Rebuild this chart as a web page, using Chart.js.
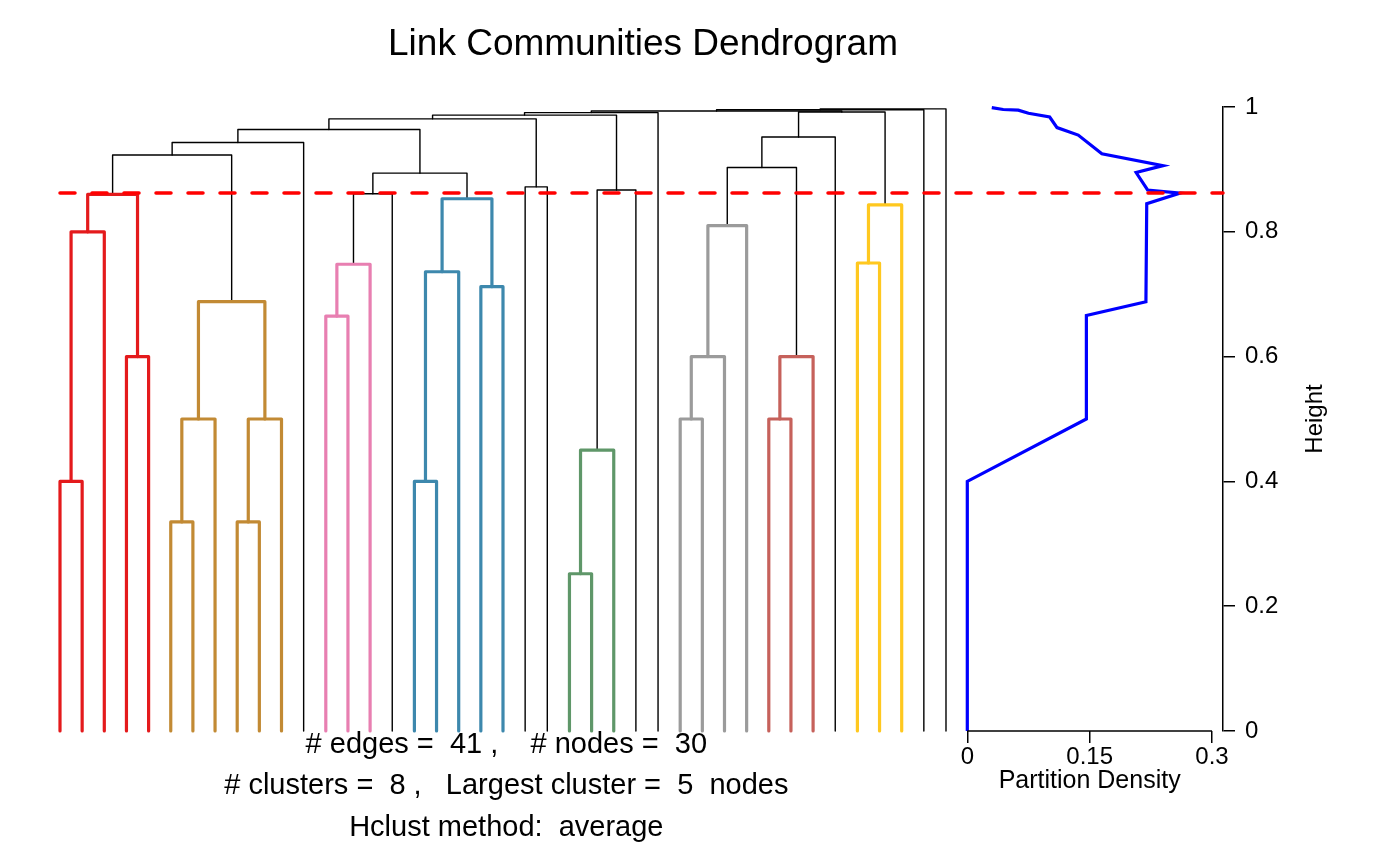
<!DOCTYPE html>
<html><head><meta charset="utf-8">
<script src="https://cdn.jsdelivr.net/npm/chart.js@4.4.0/dist/chart.umd.min.js"></script>
<style>html,body{margin:0;padding:0;background:#fff}#wrap{width:1400px;height:866px;position:relative}</style>
</head><body><div id="wrap"><canvas id="c" width="1400" height="866"></canvas></div>
<script>
// ---------------- DATA ----------------
// cluster id of each leaf (link) in dendrogram order; 0 = not in a cluster
const leafCluster = [1,1,1,1,1, 2,2,2,2,2,2, 0, 3,3,3, 0, 4,4,4,4,4, 0,0, 5,5,5, 0,0, 6,6,6,6, 7,7,7, 0, 8,8,8, 0,0];
// hclust-style merges: negative = leaf position (1-based), positive = earlier merge step (1-based)
const mergeLeft  = [-24,-6,-9,-1,-17, 1, 2, 3,-29,-33,-4, 9,10,-13, 7,-20, 5,14,-37, 4,12,19,17,20,18, 6,-22,25,21,24,30,29,31,33,34,35,32,36,38,39];
const mergeRight = [-25,-7,-10,-2,-18,-26,-8,-11,-30,-34,-5,-31,-35,-14, 8,-21,-19,-15,-38,-3,-32,-39,16,11,-16,-27,-23,23,13,15,-12,-36,28,27,26,-28,22,37,-40,-41];
const mergeHeight = [0.252,0.335,0.335,0.40,0.40,0.45,0.50,0.50,0.50,0.50,0.60,0.60,0.60,0.665,0.688,0.712,0.736,0.748,0.75,0.80,0.81,0.843,0.853,0.860,0.861,0.867,0.872,0.894,0.903,0.923,0.943,0.952,0.964,0.981,0.987,0.991,0.992,0.9936,0.9955,0.997];
const cutHeight = 0.862;
// partition density curve
const densityValues  = [0.030,0.044,0.0625,0.075,0.101,0.110,0.136,0.165,0.240,0.207,0.219,0.221,0.261,0.220,0.219,0.146,0.146,0,0];
const densityHeights = [0.999,0.996,0.995,0.990,0.984,0.967,0.955,0.925,0.906,0.895,0.871,0.867,0.862,0.845,0.688,0.666,0.500,0.40,0];
const densityTicks = [0, 0.15, 0.3];
const heightTicks = [0, 0.2, 0.4, 0.6, 0.8, 1];
const titleText = 'Link Communities Dendrogram';
const infoLines = ['# edges =  41 ,    # nodes =  30', '# clusters =  8 ,   Largest cluster =  5  nodes', 'Hclust method:  average'];

// ---------------- STYLE ----------------
const FONT = '"Liberation Sans", Arial, Helvetica, sans-serif';
const palette = ['#000000','#E41A1C','#C28A34','#E87FB1','#3D88AD','#5F9769','#9B9B9B','#C6615B','#FFC81F'];

// ---------------- BUILD ----------------
const nodeX = [], nodeH = [], nodeCl = [];
function child(ref){
  if (ref < 0){ const i = -ref - 1; return {x:i, h:0, cl:leafCluster[i]}; }
  const k = ref - 1; return {x:nodeX[k], h:nodeH[k], cl:nodeCl[k]};
}
const datasets = [];
datasets.push({
  data:[{x:0, y:cutHeight},{x:52.506, y:cutHeight}], xAxisID:'xd', yAxisID:'y',
  borderColor:'#FF0000', borderWidth:3.5, borderDash:[15,17], borderCapStyle:'round',
  showLine:true, pointRadius:0, clip:false, order:0
});
datasets.push({
  data: densityValues.map((v,i)=>({x:v, y:densityHeights[i]})), xAxisID:'xp', yAxisID:'y',
  borderColor:'#0000FF', borderWidth:3.2, showLine:true, pointRadius:0, clip:false, order:1,
  borderJoinStyle:'miter'
});
for (let k = 0; k < mergeHeight.length; k++){
  const a = child(mergeLeft[k]), b = child(mergeRight[k]), h = mergeHeight[k];
  nodeX[k] = (a.x + b.x) / 2; nodeH[k] = h;
  nodeCl[k] = (a.cl === b.cl && a.cl !== 0) ? a.cl : 0;
  // drawn right child -> left child
  datasets.push({
    data:[{x:b.x,y:b.h},{x:b.x,y:h},{x:a.x,y:h},{x:a.x,y:a.h}], xAxisID:'xd', yAxisID:'y',
    borderColor: palette[nodeCl[k]], borderWidth: nodeCl[k] ? 3.2 : 1.4,
    borderCapStyle:'round', borderJoinStyle:'round',
    showLine:true, pointRadius:0, clip:false, order:2
  });
}

const extras = {
  id:'extras',
  afterDraw(chart){
    const ctx = chart.ctx, xp = chart.scales.xp, xd = chart.scales.xd, y = chart.scales.y;
    ctx.save();
    ctx.strokeStyle = '#000'; ctx.lineWidth = 1.5;
    const yb = y.getPixelForValue(0);
    ctx.beginPath(); ctx.moveTo(xp.getPixelForValue(densityTicks[0]), yb);
    ctx.lineTo(xp.getPixelForValue(densityTicks[densityTicks.length-1]), yb); ctx.stroke();
    ctx.fillStyle = '#000'; ctx.textAlign = 'center'; ctx.textBaseline = 'middle';
    ctx.font = '25px ' + FONT;
    ctx.fillText('Partition Density', xp.getPixelForValue(0.15), 781);
    ctx.font = '24px ' + FONT;
    ctx.save(); ctx.translate(1315, y.getPixelForValue(0.5)); ctx.rotate(-Math.PI/2);
    ctx.fillText('Height', 0, 0); ctx.restore();
    ctx.font = '29px ' + FONT;
    const cx = xd.getPixelForValue(20.15);
    infoLines.forEach((t,i)=> ctx.fillText(t, cx, 745 + i*41.3));
    ctx.restore();
  }
};

Chart.defaults.color = '#000';
new Chart(document.getElementById('c'), {
  type:'scatter',
  data:{datasets},
  options:{
    responsive:false, animation:false, devicePixelRatio:1,
    layout:{padding:{left:63,right:0,top:0,bottom:0}},
    plugins:{
      legend:{display:false}, tooltip:{enabled:false},
      title:{display:true, text:titleText, fullSize:false, color:'#000',
        font:{family:FONT, size:37, weight:'normal', lineHeight:1.2}, padding:{top:23,bottom:39.6}}
    },
    scales:{
      xd:{type:'linear', position:'bottom', display:false, min:0.1354, max:52.506},
      xp:{type:'linear', position:'bottom', min:-1.10876, max:0.31351,
        afterFit:s=>{s.height = 135;},
        afterBuildTicks:s=>{s.ticks = densityTicks.map(v=>({value:v}));},
        border:{display:false},
        grid:{display:true, drawOnChartArea:false, drawTicks:true, tickLength:12, color:'#000', lineWidth:1.5},
        ticks:{autoSkip:false, maxRotation:0, padding:0, font:{family:FONT,size:24}, color:'#000', callback:v=>String(v)}
      },
      y:{type:'linear', position:'right', min:0, max:1,
        afterFit:s=>{s.width = 177;},
        afterBuildTicks:s=>{s.ticks = heightTicks.map(v=>({value:v}));},
        border:{display:true, color:'#000', width:1.5},
        grid:{display:true, drawOnChartArea:false, drawTicks:true, tickLength:12, color:'#000', lineWidth:1.5},
        ticks:{padding:10, font:{family:FONT,size:24}, color:'#000', callback:v=>String(+v.toFixed(2))}
      }
    }
  },
  plugins:[extras]
});
</script></body></html>
